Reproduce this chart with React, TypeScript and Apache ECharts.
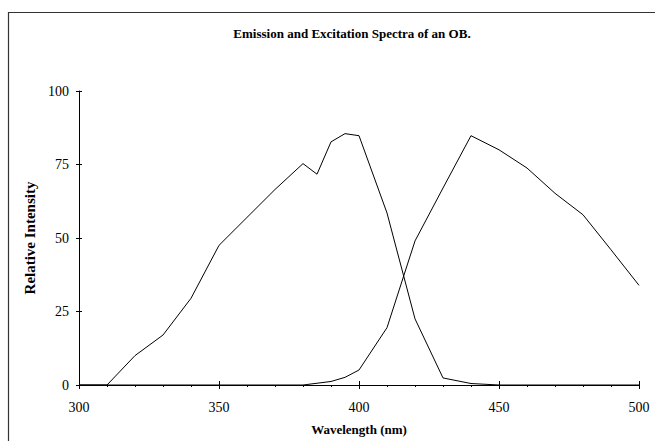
import React, { useEffect, useRef } from "react";
import * as echarts from "echarts";

// Excitation spectrum (nm, relative intensity)
const excitationNm = [300, 310, 320, 330, 340, 350, 360, 370, 380, 385, 390, 395, 400, 410, 420, 430, 440, 450, 500];
const excitationValues = [0, 0, 10, 17, 29.5, 47.5, 57, 66.5, 75.3, 71.7, 82.7, 85.5, 84.8, 58.5, 22.5, 2.4, 0.5, 0, 0];

// Emission spectrum (nm, relative intensity)
const emissionNm = [300, 380, 390, 395, 400, 410, 420, 430, 440, 450, 460, 470, 480, 490, 500];
const emissionValues = [0, 0, 1.2, 2.6, 5.1, 19.5, 49, 67, 84.8, 80, 73.8, 65.2, 57.9, 46, 33.9];

const xTicks = [300, 350, 400, 450, 500];
const yTicks = [0, 25, 50, 75, 100];

const FONT = "'Liberation Serif', 'Times New Roman', serif";

const pairs = (xs: number[], ys: number[]) => xs.map((x, i) => [x, ys[i]]);

export default function App() {
  const ref = useRef<HTMLDivElement>(null);

  useEffect(() => {
    if (!ref.current) return;
    const chart = echarts.init(ref.current, null, { renderer: "svg" });

    const xMin = xTicks[0];
    const xMax = xTicks[xTicks.length - 1];
    const yMin = yTicks[0];
    const yMax = yTicks[yTicks.length - 1];
    const axisColor = "#000";

    const baseX = {
      type: "value",
      min: xMin,
      max: xMax,
      interval: 50,
      position: "bottom",
      splitLine: { show: false },
    };
    const baseY = {
      type: "value",
      min: yMin,
      max: yMax,
      interval: 25,
      position: "left",
      splitLine: { show: false },
    };

    chart.setOption({
      animation: false,
      backgroundColor: "#fff",
      graphic: [
        {
          type: "rect",
          shape: { x: 8.5, y: 12.5, width: 700, height: 500 },
          style: { fill: "none", stroke: "#333", lineWidth: 1.2 },
          silent: true,
        },
      ],
      title: {
        text: "Emission and Excitation Spectra of an OB.",
        left: 347,
        textAlign: "center",
        top: 22,
        textStyle: { fontFamily: FONT, fontSize: 13, fontWeight: "bold", color: "#000" },
      },
      grid: { left: 79, right: 16, top: 91, bottom: 51.5 },
      xAxis: [
        {
          ...baseX,
          name: "Wavelength (nm)",
          nameLocation: "middle",
          nameGap: 38,
          nameTextStyle: { fontFamily: FONT, fontSize: 13, fontWeight: "bold", color: "#000" },
          axisLine: { show: true, lineStyle: { color: axisColor, width: 1 } },
          axisTick: { show: true, inside: false, length: 4, lineStyle: { color: axisColor } },
          minorTick: { show: true, splitNumber: 5, length: 2, lineStyle: { color: axisColor } },
          axisLabel: { fontFamily: FONT, fontSize: 14, color: "#000", margin: 15 },
        },
        {
          ...baseX,
          axisLine: { show: false },
          axisTick: { show: true, inside: true, length: 4, lineStyle: { color: axisColor } },
          axisLabel: { show: false },
        },
      ],
      yAxis: [
        {
          ...baseY,
          name: "Relative Intensity",
          nameLocation: "middle",
          nameGap: 29,
          nameTextStyle: { fontFamily: FONT, fontSize: 15, fontWeight: "bold", color: "#000" },
          axisLine: { show: true, lineStyle: { color: axisColor, width: 1 } },
          axisTick: { show: true, inside: false, length: 3, lineStyle: { color: axisColor } },
          axisLabel: { fontFamily: FONT, fontSize: 14, color: "#000", margin: 10 },
        },
        {
          ...baseY,
          axisLine: { show: false },
          axisTick: { show: true, inside: true, length: 3, lineStyle: { color: axisColor } },
          axisLabel: { show: false },
        },
      ],
      series: [
        {
          name: "Excitation",
          type: "line",
          data: pairs(excitationNm, excitationValues),
          showSymbol: false,
          symbol: "none",
          lineStyle: { color: "#000", width: 1 },
        },
        {
          name: "Emission",
          type: "line",
          data: pairs(emissionNm, emissionValues),
          showSymbol: false,
          symbol: "none",
          lineStyle: { color: "#000", width: 1 },
        },
      ],
    });

    return () => chart.dispose();
  }, []);

  return (
    <div
      ref={ref}
      style={{ position: "fixed", left: 0, top: 0, width: 655, height: 441, background: "#fff" }}
    />
  );
}
